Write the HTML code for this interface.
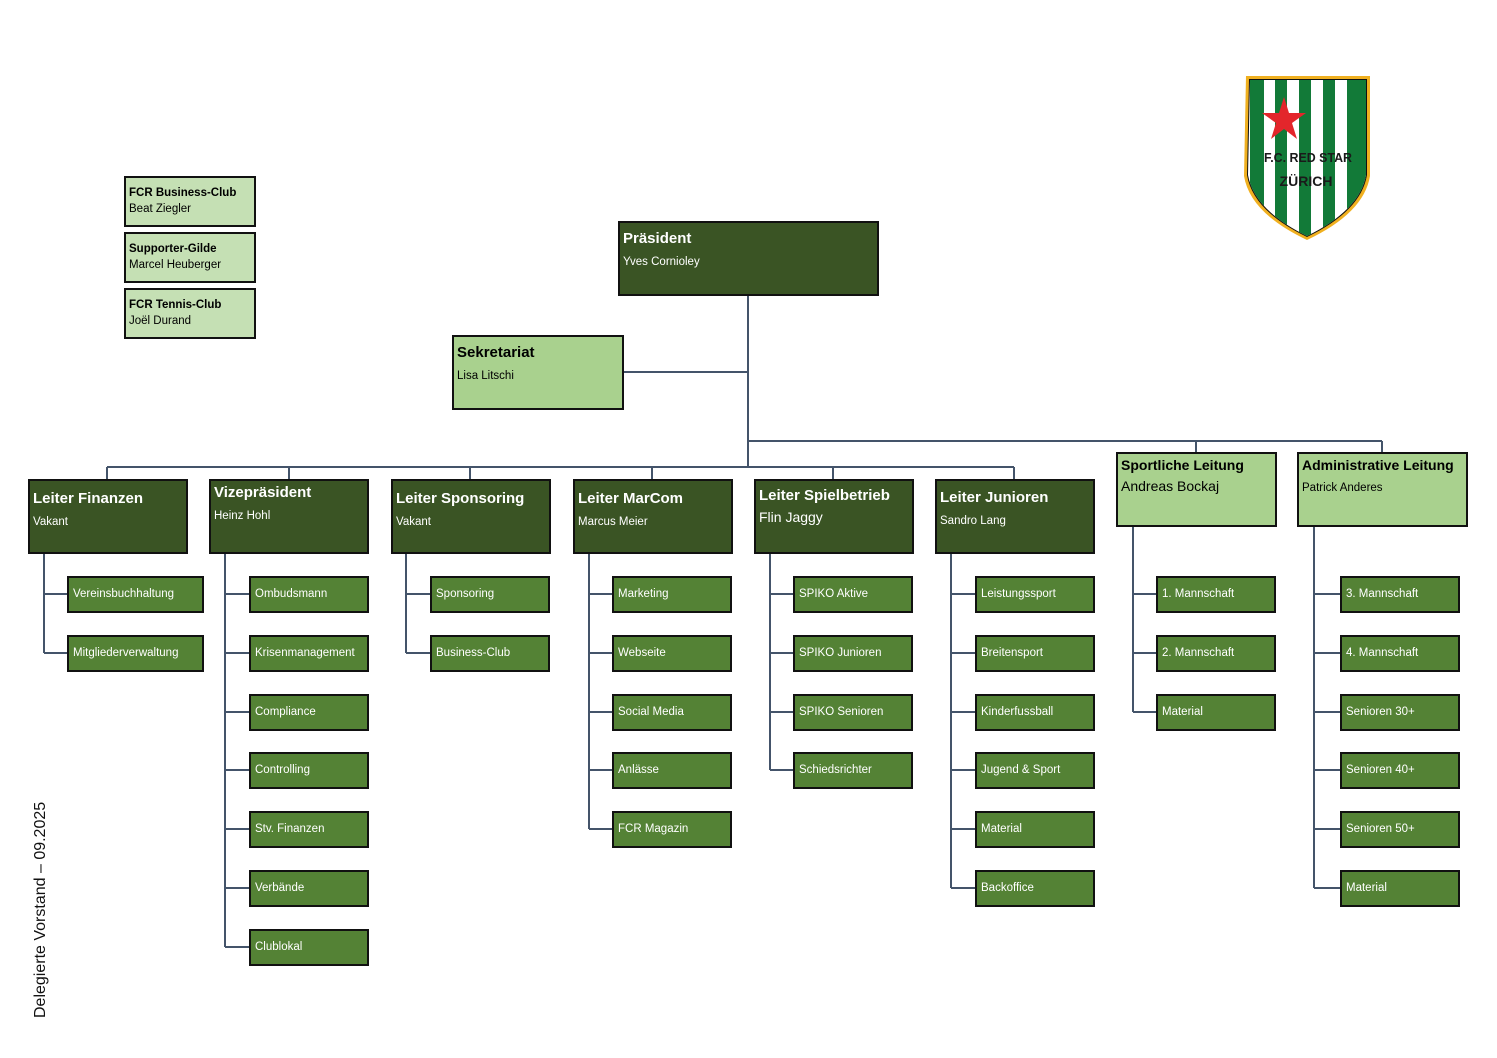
<!DOCTYPE html>
<html><head><meta charset="utf-8"><style>
body{margin:0;width:1497px;height:1058px;background:#fff;position:relative;overflow:hidden;font-family:"Liberation Sans",Arial,sans-serif}
.b{position:absolute;box-sizing:border-box;border:2px solid #111;}
.h{background:#3a5424;color:#fff;height:75px;width:160px;padding:7px 3px}
.h b{font-size:15px;display:block;margin-bottom:5px}
.h span{font-size:11.5px}
.l{background:#a9d18e;color:#000}
.s{background:#548235;color:#fff;height:37px;width:120px;font-size:11.5px;padding:0 4px;line-height:33px;white-space:nowrap}
.t{background:#c5e0b4;width:132px;height:51px;padding:7px 3px;font-size:11.5px;line-height:16px}
svg{position:absolute;left:0;top:0}
</style></head><body>
<svg width="1497" height="1058"><g stroke="#44546a" stroke-width="2" fill="none">
<path d="M748 296V467M623 372H748M107 467H1014M107 467v12M289 467v12M470 467v12M652 467v12M833 467v12M1014 467v12M748 441H1382M1196 441v11M1382 441v11"/>
<path d="M44 553V653M44 594H67M44 653H67"/>
<path d="M225 553V947M225 594h24M225 653h24M225 712h24M225 770h24M225 829h24M225 888h24M225 947h24"/>
<path d="M406 553V653M406 594h24M406 653h24"/>
<path d="M589 553V829M589 594h23M589 653h23M589 712h23M589 770h23M589 829h23"/>
<path d="M770 553V770M770 594h23M770 653h23M770 712h23M770 770h23"/>
<path d="M951 553V888M951 594h24M951 653h24M951 712h24M951 770h24M951 829h24M951 888h24"/>
<path d="M1133 527V712M1133 594h23M1133 653h23M1133 712h23"/>
<path d="M1314 527V888M1314 594h26M1314 653h26M1314 712h26M1314 770h26M1314 829h26M1314 888h26"/>
</g></svg>

<div class="b t" style="left:124px;top:176px"><b>FCR Business-Club</b><br>Beat Ziegler</div>
<div class="b t" style="left:124px;top:232px"><b>Supporter-Gilde</b><br>Marcel Heuberger</div>
<div class="b t" style="left:124px;top:288px"><b>FCR Tennis-Club</b><br>Joël Durand</div>

<div class="b h" style="left:618px;top:221px;width:261px"><b>Präsident</b><span>Yves Cornioley</span></div>
<div class="b h l" style="left:452px;top:335px;width:172px"><b>Sekretariat</b><span>Lisa Litschi</span></div>

<div class="b h" style="left:28px;top:479px"><b style="margin-top:2px">Leiter Finanzen</b><span>Vakant</span></div>
<div class="b h" style="left:209px;top:479px"><b style="margin-top:-4px">Vizepräsident</b><span>Heinz Hohl</span></div>
<div class="b h" style="left:391px;top:479px"><b style="margin-top:2px">Leiter Sponsoring</b><span>Vakant</span></div>
<div class="b h" style="left:573px;top:479px"><b style="margin-top:2px">Leiter MarCom</b><span>Marcus Meier</span></div>
<div class="b h" style="left:754px;top:479px"><b style="margin-top:-1px">Leiter Spielbetrieb</b><span style="font-size:14px">Flin Jaggy</span></div>
<div class="b h" style="left:935px;top:479px"><b style="margin-top:1px">Leiter Junioren</b><span>Sandro Lang</span></div>
<div class="b h l" style="left:1116px;top:452px;width:161px;padding-top:3px"><b style="font-size:14px">Sportliche Leitung</b><span style="font-size:14px">Andreas Bockaj</span></div>
<div class="b h l" style="left:1297px;top:452px;width:171px;padding-top:3px"><b style="font-size:14px">Administrative Leitung</b><span>Patrick Anderes</span></div>

<div class="b s" style="left:67px;top:576px;width:137px">Vereinsbuchhaltung</div>
<div class="b s" style="left:67px;top:635px;width:137px">Mitgliederverwaltung</div>

<div class="b s" style="left:249px;top:576px">Ombudsmann</div>
<div class="b s" style="left:249px;top:635px">Krisenmanagement</div>
<div class="b s" style="left:249px;top:694px">Compliance</div>
<div class="b s" style="left:249px;top:752px">Controlling</div>
<div class="b s" style="left:249px;top:811px">Stv. Finanzen</div>
<div class="b s" style="left:249px;top:870px">Verbände</div>
<div class="b s" style="left:249px;top:929px">Clublokal</div>

<div class="b s" style="left:430px;top:576px">Sponsoring</div>
<div class="b s" style="left:430px;top:635px">Business-Club</div>

<div class="b s" style="left:612px;top:576px">Marketing</div>
<div class="b s" style="left:612px;top:635px">Webseite</div>
<div class="b s" style="left:612px;top:694px">Social Media</div>
<div class="b s" style="left:612px;top:752px">Anlässe</div>
<div class="b s" style="left:612px;top:811px">FCR Magazin</div>

<div class="b s" style="left:793px;top:576px">SPIKO Aktive</div>
<div class="b s" style="left:793px;top:635px">SPIKO Junioren</div>
<div class="b s" style="left:793px;top:694px">SPIKO Senioren</div>
<div class="b s" style="left:793px;top:752px">Schiedsrichter</div>

<div class="b s" style="left:975px;top:576px">Leistungssport</div>
<div class="b s" style="left:975px;top:635px">Breitensport</div>
<div class="b s" style="left:975px;top:694px">Kinderfussball</div>
<div class="b s" style="left:975px;top:752px">Jugend &amp; Sport</div>
<div class="b s" style="left:975px;top:811px">Material</div>
<div class="b s" style="left:975px;top:870px">Backoffice</div>

<div class="b s" style="left:1156px;top:576px">1. Mannschaft</div>
<div class="b s" style="left:1156px;top:635px">2. Mannschaft</div>
<div class="b s" style="left:1156px;top:694px">Material</div>

<div class="b s" style="left:1340px;top:576px">3. Mannschaft</div>
<div class="b s" style="left:1340px;top:635px">4. Mannschaft</div>
<div class="b s" style="left:1340px;top:694px">Senioren 30+</div>
<div class="b s" style="left:1340px;top:752px">Senioren 40+</div>
<div class="b s" style="left:1340px;top:811px">Senioren 50+</div>
<div class="b s" style="left:1340px;top:870px">Material</div>

<div style="position:absolute;left:32px;top:1018px;transform:rotate(-90deg);transform-origin:0 0;font-size:16px;white-space:nowrap;color:#111">Delegierte Vorstand – 09.2025</div>

<svg width="1497" height="1058" style="pointer-events:none">
<defs><clipPath id="sh"><path d="M1250 80H1366V175Q1360 210 1307 236Q1254 210 1248 175Z"/></clipPath></defs>
<path d="M1246 76H1370V176Q1364 213 1307 240Q1250 213 1244 176Z" fill="#f0b020"/>
<path d="M1249 79H1367V175Q1361 211 1307 237Q1253 211 1247 175Z" fill="#111"/>
<g clip-path="url(#sh)"><rect x="1240" y="70" width="140" height="180" fill="#fff"/>
<g fill="#127a38"><rect x="1250" y="80" width="14" height="170"/><rect x="1275" y="80" width="12" height="170"/><rect x="1299" y="80" width="12" height="170"/><rect x="1323" y="80" width="12" height="170"/><rect x="1347" y="80" width="20" height="170"/></g></g>
<polygon points="1284,97 1289,113 1306,113 1292,123 1297,139 1284,129 1271,139 1276,123 1262,113 1279,113" fill="#e3262b"/>
<text x="1308" y="162" text-anchor="middle" font-family="Liberation Sans" font-weight="bold" font-size="13" fill="#1a1a1a" textLength="88" lengthAdjust="spacingAndGlyphs">F.C. RED STAR</text>
<text x="1306" y="186" text-anchor="middle" font-family="Liberation Sans" font-weight="bold" font-size="14" fill="#1a1a1a">ZÜRICH</text>
</svg>
</body></html>
